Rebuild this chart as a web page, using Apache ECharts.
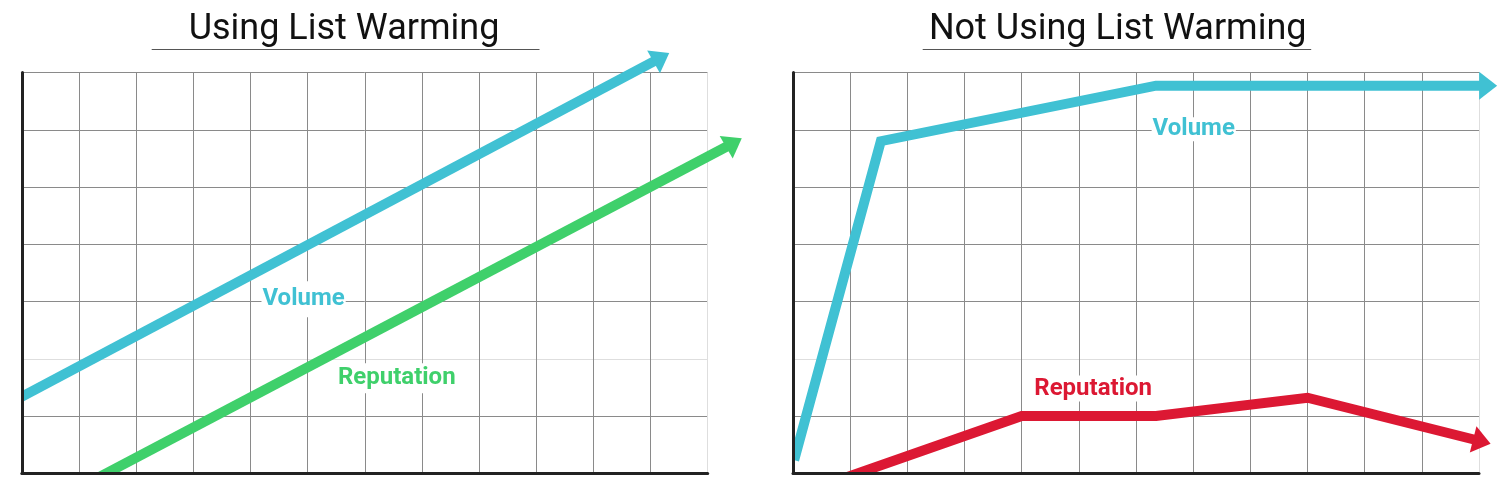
<!DOCTYPE html>
<html>
<head>
<meta charset="utf-8">
<script src="https://cdn.jsdelivr.net/npm/echarts@6/dist/echarts.min.js"></script>
<style>
html, body { margin: 0; padding: 0; background: #ffffff; }
#chart { width: 1510px; height: 491px; }
</style>
</head>
<body>
<div id="chart"></div>
<script>
// ---------------- data (grid units: x = column 0..12, y = row 0..7) ----------------
const chartTitles = ['Using List Warming', 'Not Using List Warming'];
const seriesNames = ['Volume', 'Reputation'];
const gridColumns = 12;
const gridRows = 7;

// Using list warming
const warmVolume = [[-0.1, 1.285], [11.19, 7.264]];
const warmReputation = [[1.29, -0.1], [12.46, 5.773]];

// Not using list warming
const coldVolume = [[0.02, 0.23], [1.536, 5.80], [6.35, 6.77], [12.16, 6.77]];
const coldReputation = [[0.85, -0.1], [4.0, 1.0], [6.35, 1.0], [9.0, 1.32], [12.05, 0.555]];

// label anchors
const warmVolumeLabel = [4.93, 3.04];
const warmReputationLabel = [6.56, 1.66];
const coldVolumeLabel = [7.01, 6.01];
const coldReputationLabel = [5.25, 1.48];

// ---------------- styles / layout ----------------
const CYAN = '#40c1d3';
const GREEN = '#3fd06b';
const RED = '#dc1833';
const GRID_GRAY = '#8a8a8a';
const GRID_LIGHT = '#dedede';
const AXIS_BLACK = '#222222';
const LINE_W = 10;

const panels = [
  { x0: 21.8, x1: 707.7, yTop: 72.5, yBot: 473.3, titleX: 344, ulX1: 151.7, ulX2: 539.5 },
  { x0: 793, x1: 1479, yTop: 72.5, yBot: 473.3, titleX: 1117.7, ulX1: 922.7, ulX2: 1311.2 }
];

const grids = [], xAxes = [], yAxes = [];
const vColors = Array.from({ length: gridColumns + 1 }, (_, i) => i === gridColumns ? GRID_LIGHT : GRID_GRAY);
const hColors = Array.from({ length: gridRows + 1 }, (_, i) => i === 2 ? GRID_LIGHT : GRID_GRAY);
const hidden = { show: false };

panels.forEach((p, k) => {
  const sx = (p.x1 - p.x0) / gridColumns;
  const sy = (p.yBot - p.yTop) / gridRows;
  const pad = LINE_W / 2;
  const extraTop = 40, extraRight = sx;
  // grid A: visible chart frame
  grids.push({ left: p.x0, top: p.yTop, width: p.x1 - p.x0, height: p.yBot - p.yTop, outerBoundsMode: 'none', containLabel: false });
  // grid B: drawing area for the lines (same scale, clipped at the axes, open to the top/right for arrows)
  grids.push({ left: p.x0 + pad, top: p.yTop - extraTop, width: p.x1 + extraRight - p.x0 - pad,
               height: p.yBot - pad - p.yTop + extraTop, outerBoundsMode: 'none', containLabel: false });
  const gA = 2 * k, gB = 2 * k + 1;
  // black axis lines (above series)
  xAxes.push({ type: 'value', gridIndex: gA, position: 'bottom', min: 0, max: gridColumns, interval: 1, z: 10,
    axisLine: { show: true, lineStyle: { color: AXIS_BLACK, width: 3 } },
    axisTick: hidden, axisLabel: hidden, splitLine: hidden });
  // vertical grid lines (below series)
  xAxes.push({ type: 'value', gridIndex: gA, position: 'top', min: 0, max: gridColumns, interval: 1, z: 0,
    axisLine: hidden, axisTick: hidden, axisLabel: hidden,
    splitLine: { show: true, lineStyle: { color: vColors, width: 1 } } });
  // series axis
  xAxes.push({ type: 'value', gridIndex: gB, show: false, min: pad / sx, max: gridColumns + extraRight / sx,
    splitLine: hidden, axisLine: hidden });

  yAxes.push({ type: 'value', gridIndex: gA, position: 'left', min: 0, max: gridRows, interval: 1, z: 10,
    axisLine: { show: true, lineStyle: { color: AXIS_BLACK, width: 3 } },
    axisTick: hidden, axisLabel: hidden, splitLine: hidden });
  yAxes.push({ type: 'value', gridIndex: gA, position: 'right', min: 0, max: gridRows, interval: 1, z: 0,
    axisLine: hidden, axisTick: hidden, axisLabel: hidden,
    splitLine: { show: true, lineStyle: { color: hColors, width: 1 } } });
  yAxes.push({ type: 'value', gridIndex: gB, show: false, min: pad / sy, max: gridRows + extraTop / sy,
    splitLine: hidden, axisLine: hidden });
});

function lineSeries(name, pts, color, panel, arrowSize, arrowRotate, labelPos, labelPadding) {
  const data = pts.map((p, i) => i === pts.length - 1
    ? { value: p, symbol: 'triangle', symbolSize: arrowSize, symbolRotate: arrowRotate }
    : { value: p, symbol: 'none' });
  return {
    type: 'line', name: name,
    xAxisIndex: panel * 3 + 2, yAxisIndex: panel * 3 + 2,
    data: data, clip: true, z: 2,
    symbol: 'triangle', showSymbol: true,
    lineStyle: { color: color, width: LINE_W, join: 'miter', cap: 'butt' },
    itemStyle: { color: color, borderWidth: 0 },
    silent: true, animation: false,
    emphasis: { disabled: true },
    markPoint: {
      silent: true, animation: false,
      symbol: 'circle', symbolSize: 1,
      itemStyle: { color: 'rgba(0,0,0,0)' },
      label: {
        show: true, position: 'inside', formatter: '{b}',
        color: color, fontFamily: 'Roboto', fontWeight: 'bold', fontSize: 24,
        backgroundColor: '#ffffff', padding: labelPadding
      },
      data: [{ name: name, coord: labelPos }]
    }
  };
}

const series = [
  lineSeries(seriesNames[0], warmVolume, CYAN, 0, [26, 18], -60.5, warmVolumeLabel, [6, 1]),
  lineSeries(seriesNames[1], warmReputation, GREEN, 0, [26, 18], -60, warmReputationLabel, [3, 1]),
  lineSeries(seriesNames[0], coldVolume, CYAN, 1, [28, 18], -90, coldVolumeLabel, [0, 1]),
  lineSeries(seriesNames[1], coldReputation, RED, 1, [27, 18], -104.3, coldReputationLabel, [1, 1])
];

const titles = panels.map((p, k) => ({
  text: chartTitles[k], left: p.titleX, top: 12, padding: 0,
  textAlign: 'center', textVerticalAlign: 'top',
  textStyle: { fontFamily: 'Roboto', fontWeight: 'normal', fontSize: 36, color: '#111111' }
}));

const underlines = panels.map(p => ({
  type: 'line', silent: true,
  shape: { x1: p.ulX1, y1: 49.5, x2: p.ulX2, y2: 49.5 },
  style: { stroke: '#555555', lineWidth: 1 }
}));

const chart = echarts.init(document.getElementById('chart'), null, { renderer: 'canvas' });
chart.setOption({
  backgroundColor: '#ffffff',
  animation: false,
  title: titles,
  grid: grids,
  xAxis: xAxes,
  yAxis: yAxes,
  graphic: underlines,
  tooltip: { show: false },
  series: series
});
</script>
</body>
</html>
